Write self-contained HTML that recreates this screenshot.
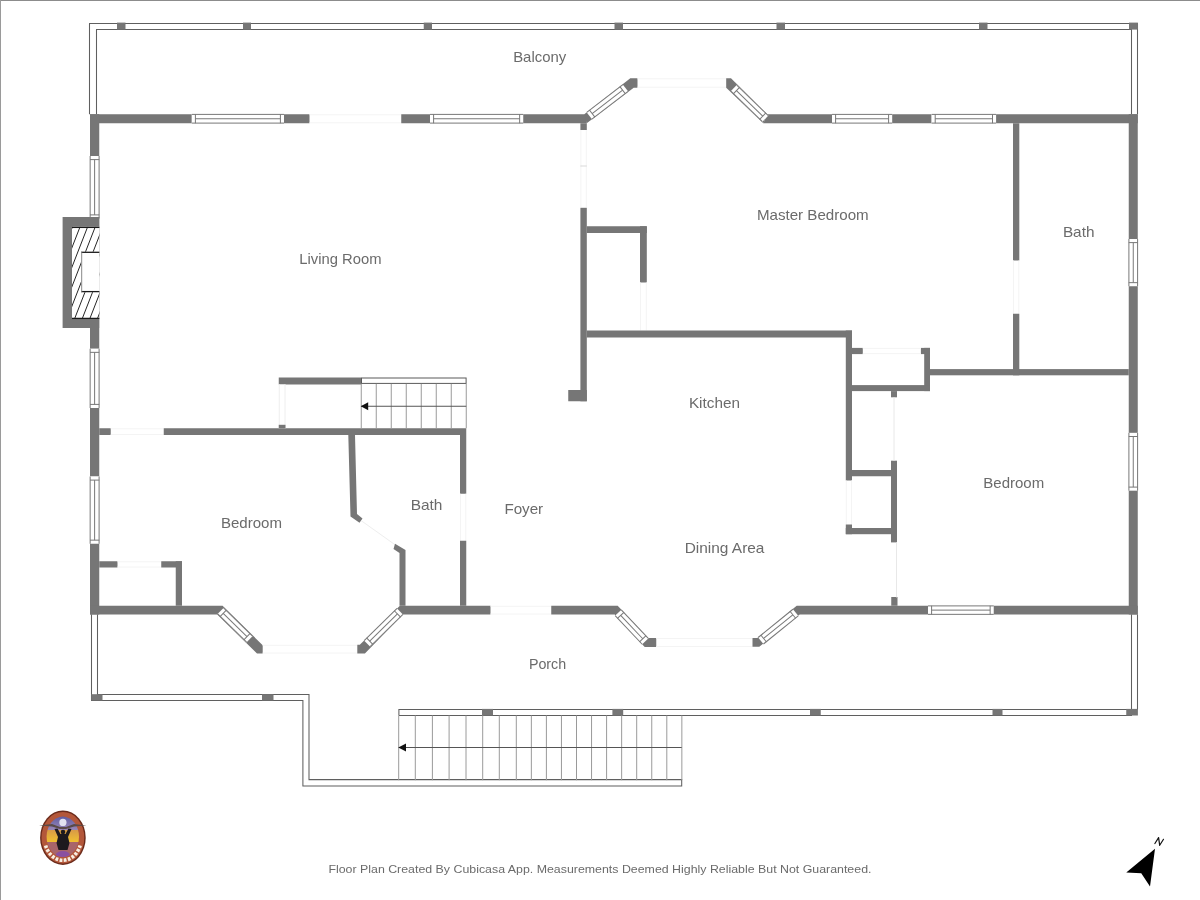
<!DOCTYPE html>
<html><head><meta charset="utf-8"><style>
html,body{margin:0;padding:0;background:#fff;width:1200px;height:900px;overflow:hidden}
svg{display:block}
text{font-family:"Liberation Sans",sans-serif;fill:#6b6b6b}
</style></head><body>
<svg width="1200" height="900" viewBox="0 0 1200 900">
<rect x="0" y="0" width="1200" height="1" fill="#8c8c8c"/>
<rect x="0" y="0" width="1" height="900" fill="#9a9a9a"/>
<path d="M89.5,114.3 V23.5 H1137.5 V114.3" fill="none" stroke="#5f5f5f" stroke-width="1.05"/>
<path d="M96.5,114.3 V29.5 H1131.5 V114.3" fill="none" stroke="#5f5f5f" stroke-width="1.05"/>
<rect x="117" y="22.6" width="8.5" height="7" fill="#767676"/>
<rect x="243" y="22.6" width="8" height="7" fill="#767676"/>
<rect x="423.75" y="22.6" width="8.25" height="7" fill="#767676"/>
<rect x="614.5" y="22.6" width="8.5" height="7" fill="#767676"/>
<rect x="776.5" y="22.6" width="8.5" height="7" fill="#767676"/>
<rect x="979" y="22.6" width="8.5" height="7" fill="#767676"/>
<rect x="1129" y="22.6" width="8.9" height="7" fill="#767676"/>
<rect x="90" y="114.25" width="101.8" height="9" fill="#767676"/>
<rect x="191.8" y="114.25" width="92.2" height="9" fill="#fff"/>
<line x1="191.8" y1="114.4" x2="284" y2="114.4" stroke="#787878" stroke-width="1"/>
<line x1="191.8" y1="123.1" x2="284" y2="123.1" stroke="#787878" stroke-width="1"/>
<line x1="195.4" y1="114.25" x2="195.4" y2="123.25" stroke="#787878" stroke-width="1"/>
<line x1="280.4" y1="114.25" x2="280.4" y2="123.25" stroke="#787878" stroke-width="1"/>
<line x1="195.4" y1="118.75" x2="280.4" y2="118.75" stroke="#787878" stroke-width="1"/>
<rect x="284" y="114.25" width="25.5" height="9" fill="#767676"/>
<line x1="309.5" y1="114.75" x2="401.25" y2="114.75" stroke="#f4f4f4" stroke-width="1"/>
<line x1="309.5" y1="122.75" x2="401.25" y2="122.75" stroke="#f4f4f4" stroke-width="1"/>
<rect x="401.25" y="114.25" width="28.75" height="9" fill="#767676"/>
<rect x="430" y="114.25" width="93.25" height="9" fill="#fff"/>
<line x1="430" y1="114.4" x2="523.25" y2="114.4" stroke="#787878" stroke-width="1"/>
<line x1="430" y1="123.1" x2="523.25" y2="123.1" stroke="#787878" stroke-width="1"/>
<line x1="433.6" y1="114.25" x2="433.6" y2="123.25" stroke="#787878" stroke-width="1"/>
<line x1="519.65" y1="114.25" x2="519.65" y2="123.25" stroke="#787878" stroke-width="1"/>
<line x1="433.6" y1="118.75" x2="519.65" y2="118.75" stroke="#787878" stroke-width="1"/>
<rect x="523.25" y="114.25" width="63.45" height="9" fill="#767676"/>
<polygon points="584.3,114.25 630.3,78.3 637.5,78.3 637.5,87.7 633.7,87.7 586.7,123.25" fill="#767676"/>
<line x1="637.5" y1="78.8" x2="726.2" y2="78.8" stroke="#f4f4f4" stroke-width="1"/>
<line x1="637.5" y1="87.2" x2="726.2" y2="87.2" stroke="#f4f4f4" stroke-width="1"/>
<polygon points="726.2,78.3 731,78.3 767.3,114.25 763.3,123.25 726.2,87.7" fill="#767676"/>
<g transform="translate(585.5,118.7) rotate(-37.51)">
<rect x="4.8" y="-4.5" width="45.6" height="9" fill="#fff"/>
<line x1="4.8" y1="-4.2" x2="50.4" y2="-4.2" stroke="#787878" stroke-width="1"/>
<line x1="4.8" y1="4.2" x2="50.4" y2="4.2" stroke="#787878" stroke-width="1"/>
<line x1="8.4" y1="-4.5" x2="8.4" y2="4.5" stroke="#787878" stroke-width="1"/>
<line x1="46.8" y1="-4.5" x2="46.8" y2="4.5" stroke="#787878" stroke-width="1"/>
<line x1="8.4" y1="0" x2="46.8" y2="0" stroke="#787878" stroke-width="1"/>
</g>
<polygon points="767.3,114.25 832,114.25 832,123.25 763.3,123.25" fill="#767676"/>
<g transform="translate(728.6,83) rotate(44.21)">
<rect x="7.3" y="-4.5" width="43.9" height="9" fill="#fff"/>
<line x1="7.3" y1="-4.2" x2="51.2" y2="-4.2" stroke="#787878" stroke-width="1"/>
<line x1="7.3" y1="4.2" x2="51.2" y2="4.2" stroke="#787878" stroke-width="1"/>
<line x1="10.9" y1="-4.5" x2="10.9" y2="4.5" stroke="#787878" stroke-width="1"/>
<line x1="47.6" y1="-4.5" x2="47.6" y2="4.5" stroke="#787878" stroke-width="1"/>
<line x1="10.9" y1="0" x2="47.6" y2="0" stroke="#787878" stroke-width="1"/>
</g>
<rect x="832" y="114.25" width="60.2" height="9" fill="#fff"/>
<line x1="832" y1="114.4" x2="892.2" y2="114.4" stroke="#787878" stroke-width="1"/>
<line x1="832" y1="123.1" x2="892.2" y2="123.1" stroke="#787878" stroke-width="1"/>
<line x1="835.6" y1="114.25" x2="835.6" y2="123.25" stroke="#787878" stroke-width="1"/>
<line x1="888.6" y1="114.25" x2="888.6" y2="123.25" stroke="#787878" stroke-width="1"/>
<line x1="835.6" y1="118.75" x2="888.6" y2="118.75" stroke="#787878" stroke-width="1"/>
<rect x="892.2" y="114.25" width="39.4" height="9" fill="#767676"/>
<rect x="931.6" y="114.25" width="64.5" height="9" fill="#fff"/>
<line x1="931.6" y1="114.4" x2="996.1" y2="114.4" stroke="#787878" stroke-width="1"/>
<line x1="931.6" y1="123.1" x2="996.1" y2="123.1" stroke="#787878" stroke-width="1"/>
<line x1="935.2" y1="114.25" x2="935.2" y2="123.25" stroke="#787878" stroke-width="1"/>
<line x1="992.5" y1="114.25" x2="992.5" y2="123.25" stroke="#787878" stroke-width="1"/>
<line x1="935.2" y1="118.75" x2="992.5" y2="118.75" stroke="#787878" stroke-width="1"/>
<rect x="996.1" y="114.25" width="141.65" height="9" fill="#767676"/>
<rect x="90" y="114.25" width="9.25" height="41.75" fill="#767676"/>
<rect x="90" y="156" width="9.25" height="62.5" fill="#fff"/>
<line x1="90.15" y1="156" x2="90.15" y2="218.5" stroke="#787878" stroke-width="1"/>
<line x1="99.1" y1="156" x2="99.1" y2="218.5" stroke="#787878" stroke-width="1"/>
<line x1="90" y1="159.6" x2="99.25" y2="159.6" stroke="#787878" stroke-width="1"/>
<line x1="90" y1="214.9" x2="99.25" y2="214.9" stroke="#787878" stroke-width="1"/>
<line x1="94.62" y1="159.6" x2="94.62" y2="214.9" stroke="#787878" stroke-width="1"/>
<rect x="62.6" y="217" width="36.8" height="111" fill="#767676"/>
<rect x="72" y="226.7" width="27.4" height="92.3" fill="#fff"/>
<rect x="90" y="328" width="9.25" height="20.75" fill="#767676"/>
<rect x="90" y="348.75" width="9.25" height="59.25" fill="#fff"/>
<line x1="90.15" y1="348.75" x2="90.15" y2="408" stroke="#787878" stroke-width="1"/>
<line x1="99.1" y1="348.75" x2="99.1" y2="408" stroke="#787878" stroke-width="1"/>
<line x1="90" y1="352.35" x2="99.25" y2="352.35" stroke="#787878" stroke-width="1"/>
<line x1="90" y1="404.4" x2="99.25" y2="404.4" stroke="#787878" stroke-width="1"/>
<line x1="94.62" y1="352.35" x2="94.62" y2="404.4" stroke="#787878" stroke-width="1"/>
<rect x="90" y="408" width="9.25" height="68.5" fill="#767676"/>
<rect x="90" y="476.5" width="9.25" height="67.25" fill="#fff"/>
<line x1="90.15" y1="476.5" x2="90.15" y2="543.75" stroke="#787878" stroke-width="1"/>
<line x1="99.1" y1="476.5" x2="99.1" y2="543.75" stroke="#787878" stroke-width="1"/>
<line x1="90" y1="480.1" x2="99.25" y2="480.1" stroke="#787878" stroke-width="1"/>
<line x1="90" y1="540.15" x2="99.25" y2="540.15" stroke="#787878" stroke-width="1"/>
<line x1="94.62" y1="480.1" x2="94.62" y2="540.15" stroke="#787878" stroke-width="1"/>
<rect x="90" y="543.75" width="9.25" height="70.75" fill="#767676"/>
<rect x="1128.75" y="114.25" width="9" height="124.75" fill="#767676"/>
<rect x="1128.75" y="239" width="9" height="47.25" fill="#fff"/>
<line x1="1128.9" y1="239" x2="1128.9" y2="286.25" stroke="#787878" stroke-width="1"/>
<line x1="1137.6" y1="239" x2="1137.6" y2="286.25" stroke="#787878" stroke-width="1"/>
<line x1="1128.75" y1="242.6" x2="1137.75" y2="242.6" stroke="#787878" stroke-width="1"/>
<line x1="1128.75" y1="282.65" x2="1137.75" y2="282.65" stroke="#787878" stroke-width="1"/>
<line x1="1133.25" y1="242.6" x2="1133.25" y2="282.65" stroke="#787878" stroke-width="1"/>
<rect x="1128.75" y="286.25" width="9" height="146.65" fill="#767676"/>
<rect x="1128.75" y="432.9" width="9" height="57.8" fill="#fff"/>
<line x1="1128.9" y1="432.9" x2="1128.9" y2="490.7" stroke="#787878" stroke-width="1"/>
<line x1="1137.6" y1="432.9" x2="1137.6" y2="490.7" stroke="#787878" stroke-width="1"/>
<line x1="1128.75" y1="436.5" x2="1137.75" y2="436.5" stroke="#787878" stroke-width="1"/>
<line x1="1128.75" y1="487.1" x2="1137.75" y2="487.1" stroke="#787878" stroke-width="1"/>
<line x1="1133.25" y1="436.5" x2="1133.25" y2="487.1" stroke="#787878" stroke-width="1"/>
<rect x="1128.75" y="490.7" width="9" height="123.8" fill="#767676"/>
<polygon points="90,605.75 222.6,605.75 262.7,645.2 262.7,653.5 257,653.5 217.2,614.5 90,614.5" fill="#767676"/>
<g transform="translate(219.9,610.15) rotate(44.39)">
<rect x="1" y="-4.5" width="40.5" height="9" fill="#fff"/>
<line x1="1" y1="-4.2" x2="41.5" y2="-4.2" stroke="#787878" stroke-width="1"/>
<line x1="1" y1="4.2" x2="41.5" y2="4.2" stroke="#787878" stroke-width="1"/>
<line x1="4.6" y1="-4.5" x2="4.6" y2="4.5" stroke="#787878" stroke-width="1"/>
<line x1="37.9" y1="-4.5" x2="37.9" y2="4.5" stroke="#787878" stroke-width="1"/>
<line x1="4.6" y1="0" x2="37.9" y2="0" stroke="#787878" stroke-width="1"/>
</g>
<line x1="262.7" y1="645.3" x2="357.3" y2="645.3" stroke="#f4f4f4" stroke-width="1"/>
<line x1="262.7" y1="653" x2="357.3" y2="653" stroke="#f4f4f4" stroke-width="1"/>
<polygon points="357.3,644.8 359.8,644.8 399.9,605.75 490.5,605.75 490.5,614.5 402.8,614.5 364.9,653.5 357.3,653.5" fill="#767676"/>
<g transform="translate(361.4,649.2) rotate(-44.35)">
<rect x="8" y="-4.5" width="46" height="9" fill="#fff"/>
<line x1="8" y1="-4.2" x2="54" y2="-4.2" stroke="#787878" stroke-width="1"/>
<line x1="8" y1="4.2" x2="54" y2="4.2" stroke="#787878" stroke-width="1"/>
<line x1="11.6" y1="-4.5" x2="11.6" y2="4.5" stroke="#787878" stroke-width="1"/>
<line x1="50.4" y1="-4.5" x2="50.4" y2="4.5" stroke="#787878" stroke-width="1"/>
<line x1="11.6" y1="0" x2="50.4" y2="0" stroke="#787878" stroke-width="1"/>
</g>
<line x1="490.5" y1="606.25" x2="551.25" y2="606.25" stroke="#f4f4f4" stroke-width="1"/>
<line x1="490.5" y1="614" x2="551.25" y2="614" stroke="#f4f4f4" stroke-width="1"/>
<polygon points="551.25,605.75 617.7,605.75 648,638 656.25,638 656.25,647 644.7,647 614.7,614.5 551.25,614.5" fill="#767676"/>
<g transform="translate(614.58,608.96) rotate(46.56)">
<rect x="5.26" y="-4.5" width="39.34" height="9" fill="#fff"/>
<line x1="5.26" y1="-4.2" x2="44.6" y2="-4.2" stroke="#787878" stroke-width="1"/>
<line x1="5.26" y1="4.2" x2="44.6" y2="4.2" stroke="#787878" stroke-width="1"/>
<line x1="8.86" y1="-4.5" x2="8.86" y2="4.5" stroke="#787878" stroke-width="1"/>
<line x1="41" y1="-4.5" x2="41" y2="4.5" stroke="#787878" stroke-width="1"/>
<line x1="8.86" y1="0" x2="41" y2="0" stroke="#787878" stroke-width="1"/>
</g>
<line x1="656.25" y1="638.5" x2="752.5" y2="638.5" stroke="#f4f4f4" stroke-width="1"/>
<line x1="656.25" y1="646.5" x2="752.5" y2="646.5" stroke="#f4f4f4" stroke-width="1"/>
<polygon points="752.5,638 757.3,638 796.7,605.75 928,605.75 928,614.5 799.7,614.5 759.3,646.8 752.5,646.8" fill="#767676"/>
<g transform="translate(760.04,641.38) rotate(-39.07)">
<rect x="1" y="-4.5" width="44.8" height="9" fill="#fff"/>
<line x1="1" y1="-4.2" x2="45.8" y2="-4.2" stroke="#787878" stroke-width="1"/>
<line x1="1" y1="4.2" x2="45.8" y2="4.2" stroke="#787878" stroke-width="1"/>
<line x1="4.6" y1="-4.5" x2="4.6" y2="4.5" stroke="#787878" stroke-width="1"/>
<line x1="42.2" y1="-4.5" x2="42.2" y2="4.5" stroke="#787878" stroke-width="1"/>
<line x1="4.6" y1="0" x2="42.2" y2="0" stroke="#787878" stroke-width="1"/>
</g>
<rect x="891.25" y="597" width="6.25" height="8.75" fill="#767676"/>
<rect x="928" y="605.75" width="65.75" height="8.75" fill="#fff"/>
<line x1="928" y1="605.9" x2="993.75" y2="605.9" stroke="#787878" stroke-width="1"/>
<line x1="928" y1="614.35" x2="993.75" y2="614.35" stroke="#787878" stroke-width="1"/>
<line x1="931.6" y1="605.75" x2="931.6" y2="614.5" stroke="#787878" stroke-width="1"/>
<line x1="990.15" y1="605.75" x2="990.15" y2="614.5" stroke="#787878" stroke-width="1"/>
<line x1="931.6" y1="610.12" x2="990.15" y2="610.12" stroke="#787878" stroke-width="1"/>
<rect x="993.75" y="605.75" width="144" height="8.75" fill="#767676"/>
<rect x="580.4" y="123.25" width="6.4" height="6.75" fill="#767676"/>
<line x1="580.9" y1="130" x2="580.9" y2="207.5" stroke="#f4f4f4" stroke-width="1"/>
<line x1="586.3" y1="130" x2="586.3" y2="207.5" stroke="#f4f4f4" stroke-width="1"/>
<line x1="580.4" y1="166" x2="586.8" y2="166" stroke="#cfcfcf" stroke-width="0.8"/>
<rect x="580.4" y="207.8" width="6.4" height="193.45" fill="#767676"/>
<rect x="568.25" y="390" width="18.55" height="11.25" fill="#767676"/>
<rect x="586.8" y="226.25" width="60" height="6.75" fill="#767676"/>
<rect x="640" y="226.25" width="6.8" height="56.25" fill="#767676"/>
<line x1="640.5" y1="282.5" x2="640.5" y2="330.5" stroke="#f4f4f4" stroke-width="1"/>
<line x1="646.3" y1="282.5" x2="646.3" y2="330.5" stroke="#f4f4f4" stroke-width="1"/>
<rect x="586.8" y="330.5" width="265.2" height="7" fill="#767676"/>
<rect x="845.8" y="330.5" width="6.2" height="150" fill="#767676"/>
<line x1="846.3" y1="480.5" x2="846.3" y2="524.5" stroke="#f4f4f4" stroke-width="1"/>
<line x1="851.5" y1="480.5" x2="851.5" y2="524.5" stroke="#f4f4f4" stroke-width="1"/>
<rect x="845.8" y="524.5" width="6.2" height="9.7" fill="#767676"/>
<rect x="845.8" y="528" width="51.2" height="6.2" fill="#767676"/>
<rect x="852" y="470" width="39" height="6.25" fill="#767676"/>
<rect x="891" y="460.7" width="6" height="81.7" fill="#767676"/>
<line x1="896.5" y1="542.4" x2="896.5" y2="597.4" stroke="#e8e8e8" stroke-width="1"/>
<rect x="852" y="347.9" width="10.8" height="6.2" fill="#767676"/>
<rect x="920.9" y="347.9" width="9.1" height="6.2" fill="#767676"/>
<line x1="862.8" y1="348.4" x2="920.9" y2="348.4" stroke="#f4f4f4" stroke-width="1"/>
<line x1="862.8" y1="353.6" x2="920.9" y2="353.6" stroke="#f4f4f4" stroke-width="1"/>
<rect x="924.2" y="347.9" width="5.8" height="43.2" fill="#767676"/>
<rect x="852" y="385.1" width="78" height="6" fill="#767676"/>
<rect x="891" y="391.1" width="6" height="6.2" fill="#767676"/>
<line x1="894" y1="397.3" x2="894" y2="460.7" stroke="#e8e8e8" stroke-width="1"/>
<rect x="930" y="369.1" width="198.75" height="6.2" fill="#767676"/>
<rect x="1013" y="123.25" width="6.3" height="137.25" fill="#767676"/>
<line x1="1013.5" y1="260.5" x2="1013.5" y2="313.75" stroke="#f4f4f4" stroke-width="1"/>
<line x1="1018.8" y1="260.5" x2="1018.8" y2="313.75" stroke="#f4f4f4" stroke-width="1"/>
<rect x="1013" y="313.75" width="6.3" height="61.55" fill="#767676"/>
<rect x="99.25" y="428.25" width="11.5" height="6.75" fill="#767676"/>
<line x1="110.75" y1="428.75" x2="163.75" y2="428.75" stroke="#f4f4f4" stroke-width="1"/>
<line x1="110.75" y1="434.5" x2="163.75" y2="434.5" stroke="#f4f4f4" stroke-width="1"/>
<rect x="163.75" y="428.25" width="302.5" height="6.75" fill="#767676"/>
<rect x="278.75" y="377.5" width="82.5" height="7" fill="#767676"/>
<rect x="361.5" y="378" width="104.6" height="5.4" fill="#fff" stroke="#5a5a5a" stroke-width="1"/>
<rect x="278.75" y="384.5" width="6.75" height="43.75" fill="#fff"/>
<line x1="279.25" y1="384.5" x2="279.25" y2="428.25" stroke="#eeeeee" stroke-width="1"/>
<line x1="285" y1="384.5" x2="285" y2="428.25" stroke="#eeeeee" stroke-width="1"/>
<rect x="278.75" y="424.8" width="6.75" height="3.7" fill="#767676"/>
<line x1="361.25" y1="383.9" x2="361.25" y2="428.25" stroke="#9a9a9a" stroke-width="1"/>
<line x1="376.25" y1="383.9" x2="376.25" y2="428.25" stroke="#9a9a9a" stroke-width="1"/>
<line x1="391.25" y1="383.9" x2="391.25" y2="428.25" stroke="#9a9a9a" stroke-width="1"/>
<line x1="406.25" y1="383.9" x2="406.25" y2="428.25" stroke="#9a9a9a" stroke-width="1"/>
<line x1="421.25" y1="383.9" x2="421.25" y2="428.25" stroke="#9a9a9a" stroke-width="1"/>
<line x1="436.25" y1="383.9" x2="436.25" y2="428.25" stroke="#9a9a9a" stroke-width="1"/>
<line x1="451.25" y1="383.9" x2="451.25" y2="428.25" stroke="#9a9a9a" stroke-width="1"/>
<line x1="466.25" y1="383.9" x2="466.25" y2="428.25" stroke="#9a9a9a" stroke-width="1"/>
<line x1="361.25" y1="406.25" x2="466.25" y2="406.25" stroke="#555" stroke-width="1"/>
<polygon points="360.75,406.25 368.2,402.2 368.2,410.3" fill="#111"/>
<rect x="460" y="435" width="6.25" height="58.75" fill="#767676"/>
<line x1="460.5" y1="493.75" x2="460.5" y2="540.75" stroke="#f4f4f4" stroke-width="1"/>
<line x1="465.75" y1="493.75" x2="465.75" y2="540.75" stroke="#f4f4f4" stroke-width="1"/>
<rect x="460" y="540.75" width="6.25" height="65" fill="#767676"/>
<polygon points="348.3,435 355,435 357,514 362.5,518.5 359.5,522.8 350.5,516.5" fill="#767676"/>
<line x1="361" y1="520.5" x2="397.5" y2="546.5" stroke="#eeeeee" stroke-width="1"/>
<polygon points="395,543.8 405.5,550 405.5,605.75 399.5,605.75 399.5,553 393.5,549" fill="#767676"/>
<rect x="99.25" y="561.25" width="18.25" height="6.25" fill="#767676"/>
<line x1="117.5" y1="561.75" x2="161.25" y2="561.75" stroke="#f4f4f4" stroke-width="1"/>
<line x1="117.5" y1="567" x2="161.25" y2="567" stroke="#f4f4f4" stroke-width="1"/>
<rect x="161.25" y="561.25" width="20.75" height="6.25" fill="#767676"/>
<rect x="175.75" y="561.25" width="6.25" height="44.5" fill="#767676"/>
<path d="M91.5,614.5 V700.5 H302.9 V785.9 H681.7 V779.6 H309 V694.5 H97.5 V614.5" fill="none" stroke="#5f5f5f" stroke-width="1.05"/>
<path d="M398.9,715.5 V709.5 H1137.5 V614.5 M398.9,715.5 H1131.5 V614.5" fill="none" stroke="#5f5f5f" stroke-width="1.05"/>
<rect x="91.25" y="694.2" width="11.25" height="6.3" fill="#767676"/>
<rect x="262" y="694.2" width="11.5" height="6.3" fill="#767676"/>
<rect x="482" y="708.9" width="11" height="6.6" fill="#767676"/>
<rect x="612.4" y="708.9" width="10.8" height="6.6" fill="#767676"/>
<rect x="810" y="708.9" width="10.75" height="6.6" fill="#767676"/>
<rect x="992.5" y="708.9" width="10" height="6.6" fill="#767676"/>
<rect x="1126.25" y="708.9" width="11.65" height="6.6" fill="#767676"/>
<line x1="398.7" y1="715.5" x2="398.7" y2="780.2" stroke="#9a9a9a" stroke-width="1"/>
<line x1="415.3" y1="715.5" x2="415.3" y2="780.2" stroke="#9a9a9a" stroke-width="1"/>
<line x1="432.4" y1="715.5" x2="432.4" y2="780.2" stroke="#9a9a9a" stroke-width="1"/>
<line x1="449.1" y1="715.5" x2="449.1" y2="780.2" stroke="#9a9a9a" stroke-width="1"/>
<line x1="466" y1="715.5" x2="466" y2="780.2" stroke="#9a9a9a" stroke-width="1"/>
<line x1="482.7" y1="715.5" x2="482.7" y2="780.2" stroke="#9a9a9a" stroke-width="1"/>
<line x1="499.3" y1="715.5" x2="499.3" y2="780.2" stroke="#9a9a9a" stroke-width="1"/>
<line x1="516.3" y1="715.5" x2="516.3" y2="780.2" stroke="#9a9a9a" stroke-width="1"/>
<line x1="531.35" y1="715.5" x2="531.35" y2="780.2" stroke="#9a9a9a" stroke-width="1"/>
<line x1="546.4" y1="715.5" x2="546.4" y2="780.2" stroke="#9a9a9a" stroke-width="1"/>
<line x1="561.45" y1="715.5" x2="561.45" y2="780.2" stroke="#9a9a9a" stroke-width="1"/>
<line x1="576.5" y1="715.5" x2="576.5" y2="780.2" stroke="#9a9a9a" stroke-width="1"/>
<line x1="591.55" y1="715.5" x2="591.55" y2="780.2" stroke="#9a9a9a" stroke-width="1"/>
<line x1="606.6" y1="715.5" x2="606.6" y2="780.2" stroke="#9a9a9a" stroke-width="1"/>
<line x1="621.65" y1="715.5" x2="621.65" y2="780.2" stroke="#9a9a9a" stroke-width="1"/>
<line x1="636.7" y1="715.5" x2="636.7" y2="780.2" stroke="#9a9a9a" stroke-width="1"/>
<line x1="651.75" y1="715.5" x2="651.75" y2="780.2" stroke="#9a9a9a" stroke-width="1"/>
<line x1="666.8" y1="715.5" x2="666.8" y2="780.2" stroke="#9a9a9a" stroke-width="1"/>
<line x1="681.85" y1="715.5" x2="681.85" y2="780.2" stroke="#9a9a9a" stroke-width="1"/>
<line x1="398.75" y1="747.5" x2="681.7" y2="747.5" stroke="#555" stroke-width="1"/>
<polygon points="398.3,747.5 406,743.5 406,751.5" fill="#111"/>
<clipPath id="fpc"><rect x="72" y="226.7" width="27.4" height="92.3"/></clipPath>
<g clip-path="url(#fpc)" stroke="#1a1a1a" stroke-width="0.95">
<line x1="-16.7" y1="319" x2="19.3" y2="226.7"/>
<line x1="-9.1" y1="319" x2="26.9" y2="226.7"/>
<line x1="-1.5" y1="319" x2="34.5" y2="226.7"/>
<line x1="6.1" y1="319" x2="42.1" y2="226.7"/>
<line x1="13.7" y1="319" x2="49.7" y2="226.7"/>
<line x1="21.3" y1="319" x2="57.3" y2="226.7"/>
<line x1="28.9" y1="319" x2="64.9" y2="226.7"/>
<line x1="36.5" y1="319" x2="72.5" y2="226.7"/>
<line x1="44.1" y1="319" x2="80.1" y2="226.7"/>
<line x1="51.7" y1="319" x2="87.7" y2="226.7"/>
<line x1="59.3" y1="319" x2="95.3" y2="226.7"/>
<line x1="66.9" y1="319" x2="102.9" y2="226.7"/>
<line x1="74.5" y1="319" x2="110.5" y2="226.7"/>
<line x1="82.1" y1="319" x2="118.1" y2="226.7"/>
<line x1="89.7" y1="319" x2="125.7" y2="226.7"/>
<line x1="97.3" y1="319" x2="133.3" y2="226.7"/>
<line x1="104.9" y1="319" x2="140.9" y2="226.7"/>
<line x1="112.5" y1="319" x2="148.5" y2="226.7"/>
<line x1="120.1" y1="319" x2="156.1" y2="226.7"/>
<line x1="127.7" y1="319" x2="163.7" y2="226.7"/>
<line x1="135.3" y1="319" x2="171.3" y2="226.7"/>
<line x1="142.9" y1="319" x2="178.9" y2="226.7"/>
<line x1="150.5" y1="319" x2="186.5" y2="226.7"/>
<line x1="158.1" y1="319" x2="194.1" y2="226.7"/>
<line x1="165.7" y1="319" x2="201.7" y2="226.7"/>
<line x1="173.3" y1="319" x2="209.3" y2="226.7"/>
<line x1="180.9" y1="319" x2="216.9" y2="226.7"/>
<line x1="188.5" y1="319" x2="224.5" y2="226.7"/>
</g>
<line x1="72" y1="227.4" x2="99.4" y2="227.4" stroke="#1a1a1a" stroke-width="1.3"/>
<line x1="72" y1="318.4" x2="99.4" y2="318.4" stroke="#1a1a1a" stroke-width="1.3"/>
<rect x="81.1" y="251.7" width="18.3" height="40.5" fill="#fff"/>
<line x1="81.1" y1="252.3" x2="99.4" y2="252.3" stroke="#1a1a1a" stroke-width="1.3"/>
<line x1="81.1" y1="291.6" x2="99.4" y2="291.6" stroke="#1a1a1a" stroke-width="1.3"/>
<line x1="81.7" y1="251.7" x2="81.7" y2="292.2" stroke="#888" stroke-width="1"/>
<g style="filter:grayscale(1)">
<text x="513.15" y="62.33" font-size="14.5" textLength="53.05" lengthAdjust="spacingAndGlyphs" fill="#6b6b6b">Balcony</text>
<text x="299.3" y="263.88" font-size="14.5" textLength="82.2" lengthAdjust="spacingAndGlyphs" fill="#6b6b6b">Living Room</text>
<text x="756.9" y="220.36" font-size="14.5" textLength="111.8" lengthAdjust="spacingAndGlyphs" fill="#6b6b6b">Master Bedroom</text>
<text x="1062.9" y="237.35" font-size="14.5" textLength="31.55" lengthAdjust="spacingAndGlyphs" fill="#6b6b6b">Bath</text>
<text x="688.9" y="407.93" font-size="14.5" textLength="51.05" lengthAdjust="spacingAndGlyphs" fill="#6b6b6b">Kitchen</text>
<text x="220.9" y="527.51" font-size="14.5" textLength="61.05" lengthAdjust="spacingAndGlyphs" fill="#6b6b6b">Bedroom</text>
<text x="410.65" y="509.52" font-size="14.5" textLength="31.8" lengthAdjust="spacingAndGlyphs" fill="#6b6b6b">Bath</text>
<text x="504.4" y="514.48" font-size="14.5" textLength="38.8" lengthAdjust="spacingAndGlyphs" fill="#6b6b6b">Foyer</text>
<text x="684.65" y="552.52" font-size="14.5" textLength="79.8" lengthAdjust="spacingAndGlyphs" fill="#6b6b6b">Dining Area</text>
<text x="983.3" y="488.44" font-size="14.5" textLength="60.9" lengthAdjust="spacingAndGlyphs" fill="#6b6b6b">Bedroom</text>
<text x="528.9" y="669.45" font-size="14.5" textLength="37.3" lengthAdjust="spacingAndGlyphs" fill="#6b6b6b">Porch</text>
<text x="328.4" y="872.9" font-size="11.5" textLength="543.05" lengthAdjust="spacingAndGlyphs" fill="#7c7c7c">Floor Plan Created By Cubicasa App. Measurements Deemed Highly Reliable But Not Guaranteed.</text>
</g>
<polygon points="1155,848.75 1150,886.5 1141.25,873.3 1126.25,872.5" fill="#000"/>
<path d="M1154.9,843.5 L1158.6,837.6 L1159.7,845.3 L1163.5,839.3" fill="none" stroke="#111" stroke-width="1.2" stroke-linejoin="round" stroke-linecap="round"/>
<g>
<defs><clipPath id="lgc"><ellipse cx="62.8" cy="836.8" rx="16.2" ry="20.2"/></clipPath>
<linearGradient id="sky" x1="0" y1="0" x2="0" y2="1"><stop offset="0" stop-color="#5a58a0"/><stop offset="1" stop-color="#9a88b8"/></linearGradient>
<linearGradient id="sun" x1="0" y1="0" x2="0" y2="1"><stop offset="0" stop-color="#d89a48"/><stop offset="1" stop-color="#f0c030"/></linearGradient></defs>
<ellipse cx="62.9" cy="837.7" rx="22.8" ry="27.2" fill="#6a2a1a"/>
<ellipse cx="62.9" cy="837.7" rx="21.4" ry="25.8" fill="#b3573a"/>
<g clip-path="url(#lgc)">
<rect x="45" y="815" width="36" height="15" fill="url(#sky)"/>
<rect x="45" y="830" width="36" height="12" fill="url(#sun)"/>
<rect x="45" y="842" width="36" height="16" fill="#a8656a"/>
<ellipse cx="62.8" cy="855" rx="7" ry="4" fill="#8a50a0"/>
</g>
<circle cx="62.9" cy="822.4" r="3.6" fill="#e2e2f0"/>
<path d="M39,825.6 L52,824 L60,827 L66,827 L74,824 L86.5,825.6 L74,826.6 L66,829 L60,829 L52,826.6 Z" fill="#5a4a48"/>
<path d="M54.5,829 L57.5,828.5 L60.5,834 L65.5,834 L68.5,828.5 L71.5,829 L68,837 L69.5,843 L67.5,850 L58.5,850 L56.5,843 L58,837 Z" fill="#1e1a1e"/>
<circle cx="63" cy="832" r="2.3" fill="#1e1a1e"/>
<path d="M45.61,845.43 A18.4,22.6 0 0 0 80.19,845.43" fill="none" stroke="#f6eee2" stroke-width="3.6" stroke-dasharray="2.8 1.4"/>
</g>
</svg>
</body></html>
